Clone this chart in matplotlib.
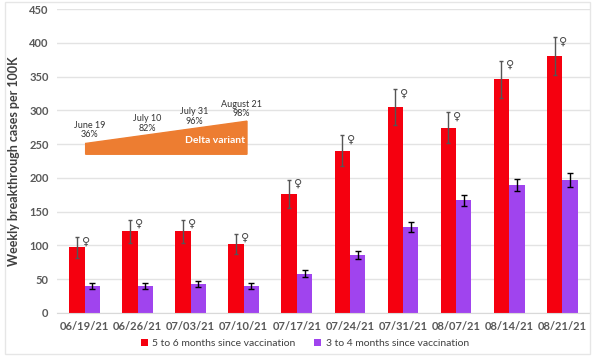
import numpy as np
import matplotlib.pyplot as plt
from matplotlib.patches import Polygon, Rectangle

plt.rcParams['font.family'] = ['Lato', 'DejaVu Sans']

dates = ['06/19/21', '06/26/21', '07/03/21', '07/10/21', '07/17/21',
         '07/24/21', '07/31/21', '08/07/21', '08/14/21', '08/21/21']
late = [97, 121, 121, 102, 176, 240, 305, 274, 346, 380]
late_err = [15, 17, 17, 15, 21, 23, 26, 23, 27, 28]
early = [40, 40, 43, 40, 58, 86, 127, 167, 189, 197]
early_err = [5, 5, 5, 5, 5, 6, 7, 8, 9, 10]

# delta variant share annotations
delta_labels = ['June 19\n36%', 'July 10\n82%', 'July 31\n96%', 'August 21\n98%']
delta_x = [0.1, 1.18, 2.06, 2.96]
delta_y = [271, 281, 291, 302]

red = '#f5000f'
purple = '#a044ee'
orange = '#ed7d31'
grey = '#595959'

fig = plt.figure(figsize=(6, 3.61), dpi=100)
ax = fig.add_axes([0.095, 0.133, 0.888, 0.842])

x = np.arange(len(dates))
w = 0.29
ax.bar(x - w / 2, late, w, color=red, zorder=2,
       label='5 to 6 months since vaccination')
ax.errorbar(x - w / 2, late, yerr=late_err, fmt='none', ecolor='#555555',
            elinewidth=1, capsize=1.5, zorder=3)
ax.bar(x + w / 2, early, w, color=purple, zorder=2,
       label='3 to 4 months since vaccination')
ax.errorbar(x + w / 2, early, yerr=early_err, fmt='none', ecolor='black',
            elinewidth=1, capsize=2, zorder=3)

# little symbols next to the red error bars
for xi, v, e in zip(x, late, late_err):
    ax.text(xi - w / 2 + 0.17, v + e - 6, '\u2640', fontsize=8, color='#444444',
            ha='center', va='center', family='DejaVu Sans', zorder=4)

# delta variant wedge
ax.add_patch(Polygon([(0.02, 235), (3.06, 235), (3.06, 284), (0.02, 251)],
                     closed=True, color=orange, zorder=1))
ax.text(2.45, 256, 'Delta variant', color='white', fontsize=7.5,
        fontweight='bold', ha='center', va='center', zorder=2)
for lx, ly, lab in zip(delta_x, delta_y, delta_labels):
    ax.text(lx, ly, lab, fontsize=6.5, color='#333333', ha='center',
            va='center', linespacing=1.1)

ax.set_xlim(-0.52, len(dates) - 0.48)
ax.set_ylim(0, 450)
ax.set_yticks(range(0, 451, 50))
ax.set_xticks(x)
ax.set_xticklabels(dates)
ax.tick_params(axis='both', length=0, labelsize=8, labelcolor=grey, pad=6)
for lab in ax.get_xticklabels() + ax.get_yticklabels():
    lab.set_fontweight('bold')
ax.grid(axis='y', color='#e3e3e3', linewidth=1, zorder=0)
ax.set_axisbelow(True)
for s in ['top', 'right', 'left']:
    ax.spines[s].set_visible(False)
ax.spines['bottom'].set_color('#d9d9d9')

ax.set_ylabel('Weekly breakthrough cases per 100K', fontsize=9,
              fontweight='bold', color='#404040')
ax.yaxis.set_label_coords(-0.07, 0.5)

ax.legend(loc='center', bbox_to_anchor=(0.465, -0.1), ncol=2,
          frameon=False, fontsize=7.5, handlelength=0.7, handleheight=0.7,
          columnspacing=1.8, handletextpad=0.4, labelcolor='#404040')

fig.patches.append(Rectangle((0.008, 0.02), 0.975, 0.975, transform=fig.transFigure,
                             fill=False, edgecolor='#e6e6e6', linewidth=1))

fig.savefig('out.png', dpi=100)
